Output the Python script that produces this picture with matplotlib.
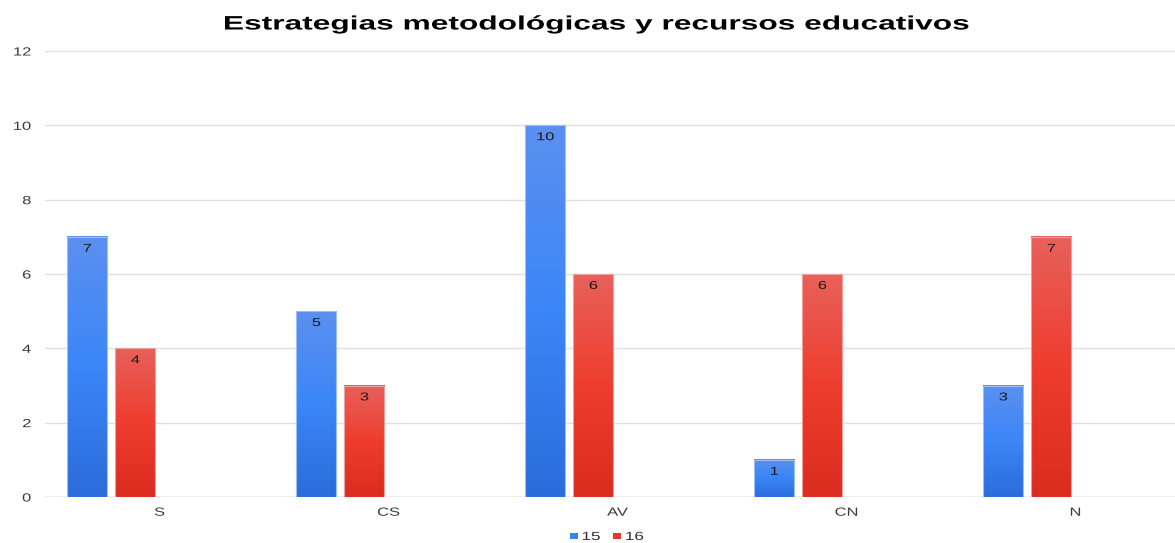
import numpy as np
import matplotlib
matplotlib.use("Agg")
import matplotlib.pyplot as plt
from matplotlib.colors import LinearSegmentedColormap
from matplotlib.patches import Rectangle, Patch
from matplotlib.patheffects import AbstractPathEffect
from matplotlib.transforms import Affine2D

plt.rcParams['font.family'] = ['Liberation Sans', 'DejaVu Sans']

categories = ["S", "CS", "AV", "CN", "N"]
series_names = ["15", "16"]
values_15 = [7, 5, 10, 1, 3]
values_16 = [4, 3, 6, 6, 7]
yticks = [0, 2, 4, 6, 8, 10, 12]


class StretchX(AbstractPathEffect):
    """Widen the rendered glyphs horizontally around an anchor (text stays real text)."""
    def __init__(self, sx, anchor='center'):
        super().__init__()
        self.sx = sx
        self.anchor = anchor

    def draw_path(self, renderer, gc, tpath, affine, rgbFace=None):
        ext = tpath.get_extents(affine)
        if self.anchor == 'right':
            cx = ext.x1
        elif self.anchor == 'left':
            cx = ext.x0
        else:
            cx = (ext.x0 + ext.x1) / 2
        new = affine + Affine2D().translate(-cx, 0).scale(self.sx, 1).translate(cx, 0)
        renderer.draw_path(gc, tpath, new, rgbFace)


fig = plt.figure(figsize=(11.75, 5.43), dpi=100)
ax = fig.add_axes([45/1175, 1-497/543, (1190-45)/1175, (497-51)/543])

blue_cmap = LinearSegmentedColormap.from_list("b", ["#2B6CDB", "#3B86F8", "#5B90F0"])
red_cmap = LinearSegmentedColormap.from_list("r", ["#DA2C1F", "#EE3D2E", "#E8615B"])
edge = {"15": "#9CC0F5", "16": "#F0A09A"}

n_slots = 4
width = 0.175
slot = 0.21
x = np.arange(len(categories))
grad = np.linspace(0, 1, 256).reshape(-1, 1)

for si, (name, vals, cmap) in enumerate([("15", values_15, blue_cmap), ("16", values_16, red_cmap)]):
    offset = (si - (n_slots - 1) / 2) * slot
    for xi, v in zip(x, vals):
        x0 = xi + offset - width / 2
        ax.imshow(grad, extent=[x0, x0 + width, 0, v], origin='lower', aspect='auto',
                  cmap=cmap, zorder=2, interpolation='bilinear')
        ax.add_patch(Rectangle((x0, 0), width, v, fill=False, edgecolor=edge[name], lw=0.8, zorder=3))
        t = ax.text(xi + offset, v - 0.32, str(v), ha='center', va='center', fontsize=8.2,
                    color='#1A1A1A', zorder=4)
        t.set_path_effects([StretchX(1.45, 'center')])

ax.set_xlim(-0.5, 4.5)
ax.set_ylim(0, 12)
ax.set_yticks(yticks)
ax.set_xticks(x)
ax.set_xticklabels(categories)
ax.tick_params(axis='both', length=0, labelsize=8.5, colors='#3A3A3A')
ax.tick_params(axis='y', pad=10)
ax.tick_params(axis='x', pad=7)
for lab in ax.get_yticklabels():
    lab.set_horizontalalignment('right')
    lab.set_path_effects([StretchX(1.4, 'right')])
for lab in ax.get_xticklabels():
    lab.set_path_effects([StretchX(1.4, 'center')])
ax.grid(axis='y', color='#E0E0E0', lw=1, zorder=0)
ax.set_axisbelow(True)
for s in ax.spines.values():
    s.set_visible(False)
ax.axhline(0, color='#CCCCCC', lw=1, zorder=1)

title = fig.text(597/1175, 1-25/543, "Estrategias metodológicas y recursos educativos",
                 ha='center', va='center', fontsize=14, fontweight='bold', color='#000000')
title.set_path_effects([StretchX(1.63, 'center')])

handles = [Patch(facecolor='#3B7FEA', edgecolor='none'),
           Patch(facecolor='#E5382A', edgecolor='none')]
leg = fig.legend(handles, series_names, loc='center', bbox_to_anchor=(604/1175, 1-537/543), ncol=2,
                 frameon=False, fontsize=8.5, handlelength=0.7, handleheight=0.45,
                 handletextpad=0.35, columnspacing=1.5, labelcolor='#333333')
for t in leg.get_texts():
    t.set_path_effects([StretchX(1.45, 'left')])

fig.savefig("out.png", dpi=100)
